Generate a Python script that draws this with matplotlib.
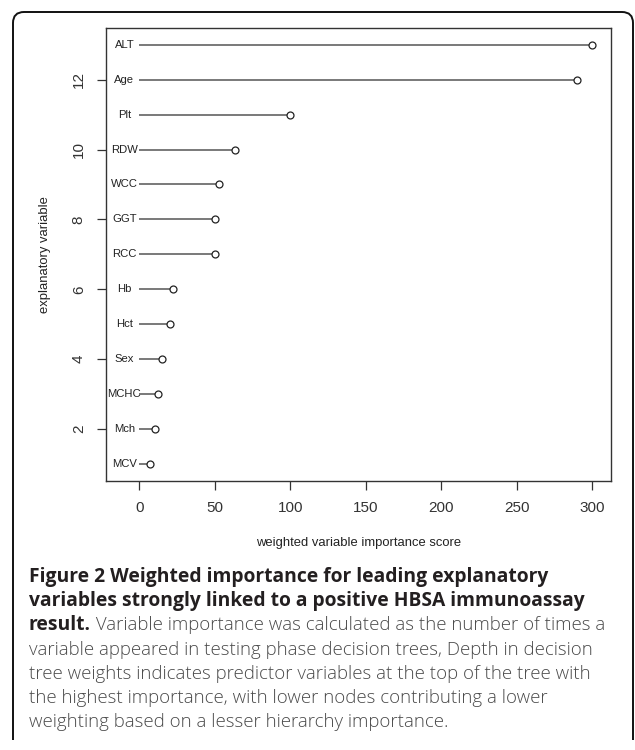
import matplotlib
matplotlib.use("Agg")
import matplotlib.pyplot as plt
from matplotlib.path import Path
from matplotlib.patches import PathPatch
import numpy as np

# variables from bottom (y=1) to top (y=13)
variables = ["MCV", "Mch", "MCHC", "Sex", "Hct", "Hb", "RCC",
             "GGT", "WCC", "RDW", "Plt", "Age", "ALT"]
scores = [7, 10, 12, 15, 20, 22, 50, 50, 53, 63, 100, 290, 300]
label_x = -10

xticks = [0, 50, 100, 150, 200, 250, 300]
yticks = [2, 4, 6, 8, 10, 12]

caption_bold = ["Figure 2 Weighted importance for leading explanatory",
                "variables strongly linked to a positive HBSA immunoassay",
                "result."]
caption_rest = [" Variable importance was calculated as the number of times a",
                "variable appeared in testing phase decision trees, Depth in decision",
                "tree weights indicates predictor variables at the top of the tree with",
                "the highest importance, with lower nodes contributing a lower",
                "weighting based on a lesser hierarchy importance."]

W, H = 635, 750
fig = plt.figure(figsize=(W / 100, H / 100), dpi=100)
plt.rcParams['font.family'] = ['Liberation Sans', 'DejaVu Sans']

ax = fig.add_axes([105.7 / W, 1 - 480.7 / H, 505 / W, 452.7 / H])

y = np.arange(1, len(variables) + 1)
ax.hlines(y, 0, scores, color="#555555", lw=1.1)
ax.plot(scores, y, "o", mfc="white", mec="#222222", ms=5, mew=0.9)
for yy, name in zip(y, variables):
    ax.text(label_x, yy, name, ha="center", va="center", fontsize=8.1, color="#222222")

ax.set_xlim(-22.4, 312.4)
ax.set_ylim(0.52, 13.48)
ax.set_xticks(xticks)
ax.set_yticks(yticks)
ax.set_yticklabels([str(t) for t in yticks], rotation=90, va="center")
ax.tick_params(axis="both", direction="out", length=6.3, width=0.9,
               colors="#333333", labelsize=11, pad=8)
for s in ax.spines.values():
    s.set_color("#333333")
    s.set_linewidth(1.0)

ax.set_xlabel("weighted variable importance score", fontsize=9.4, color="#222222")
ax.xaxis.set_label_coords(0.5, -0.1375)
ax.xaxis.label.set_va("center")
ax.set_ylabel("explanatory variable", fontsize=9.4, color="#222222")
ax.yaxis.set_label_coords(-0.1203, 0.5)
ax.yaxis.label.set_va("center")

# frame around figure and caption (open at the bottom)
def px(x, yv):
    return (x / W, 1 - yv / H)

r = 11
verts = [px(13, 740), px(13, 12 + r), px(13, 12), px(13 + r, 12),
         px(633 - r, 12), px(633, 12), px(633, 12 + r), px(633, 740)]
codes = [Path.MOVETO, Path.LINETO, Path.CURVE3, Path.CURVE3,
         Path.LINETO, Path.CURVE3, Path.CURVE3, Path.LINETO]
fig.add_artist(PathPatch(Path(verts, codes), transform=fig.transFigure,
                         fill=False, lw=1.4, ec="#111111"))

# caption
cap_x = 29
line_y = [577 + 24.2 * i for i in range(7)]
for i, txt in enumerate(caption_bold):
    t = fig.text(cap_x / W, 1 - line_y[i] / H, txt, family="Open Sans",
                 fontweight="bold", fontsize=13.9, color="#231f20", va="center")
fig.canvas.draw()
renderer = fig.canvas.get_renderer()
bw = t.get_window_extent(renderer).width
fig.text((cap_x + bw) / W, 1 - line_y[2] / H, caption_rest[0], family="Open Sans",
         fontweight="light", fontsize=13.4, color="#4a4a4a", va="center")
for i, txt in enumerate(caption_rest[1:]):
    fig.text(cap_x / W, 1 - line_y[3 + i] / H, txt, family="Open Sans",
             fontweight="light", fontsize=13.4, color="#4a4a4a", va="center")

fig.savefig("out.png", dpi=100)
